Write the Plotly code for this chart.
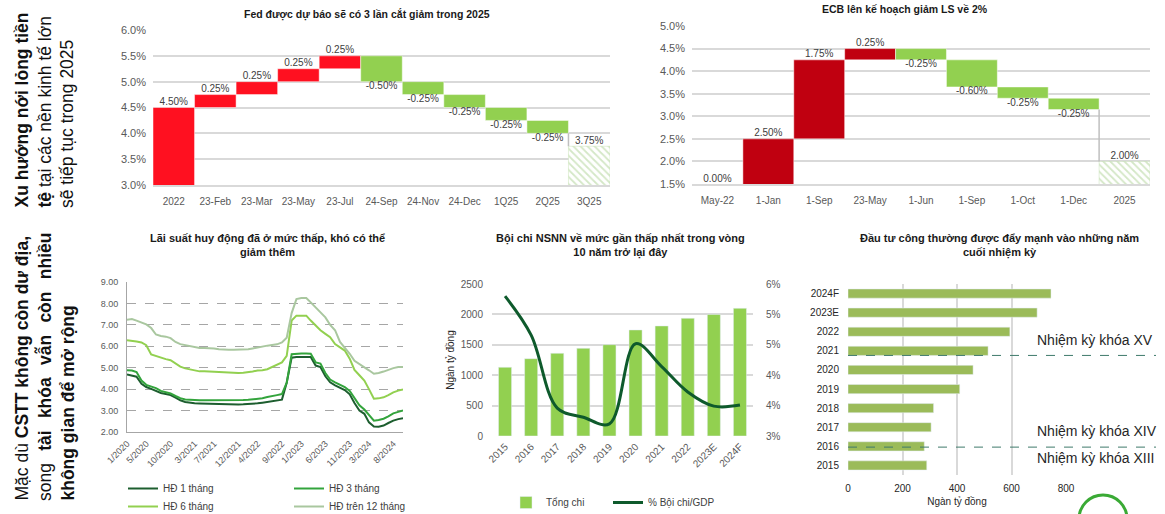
import plotly.graph_objects as go
import pandas as pd

W, H = 1165, 514
def fx(p): return p / W
def fy(p): return 1 - p / H

FONT = "Liberation Sans, Arial, sans-serif"
TXT = "#404040"
AX = "#595959"

# ---------------- data ----------------
fed_categories = ["2022", "23-Feb", "23-Mar", "23-May", "23-Jul", "24-Sep",
                  "24-Nov", "24-Dec", "1Q25", "2Q25", "3Q25"]
fed_changes = [4.50, 0.25, 0.25, 0.25, 0.25, -0.50, -0.25, -0.25, -0.25, -0.25, 3.75]
fed_totals = [True, False, False, False, False, False, False, False, False, False, True]

ecb_categories = ["May-22", "1-Jan", "1-Sep", "23-May", "1-Jun", "1-Sep",
                  "1-Oct", "1-Dec", "2025"]
ecb_changes = [0.00, 2.50, 1.75, 0.25, -0.25, -0.60, -0.25, -0.25, 2.00]
ecb_totals = [True, False, False, False, False, False, False, False, True]

rate_months = pd.date_range("2020-01-01", periods=58, freq="MS")
rate_1m = [4.68, 4.64, 4.58, 4.25, 4.10, 4.01, 3.92, 3.82, 3.77, 3.72,
           3.60, 3.48, 3.40, 3.36, 3.34, 3.33, 3.32, 3.31, 3.30, 3.29,
           3.28, 3.28, 3.28, 3.28, 3.29, 3.30, 3.32, 3.34, 3.37, 3.40,
           3.43, 3.47, 3.51, 4.30, 5.47, 5.50, 5.50, 5.50, 5.50, 5.10,
           5.03, 4.60, 4.32, 4.18, 4.08, 3.96, 3.76, 3.35, 3.00, 2.85,
           2.45, 2.26, 2.25, 2.30, 2.42, 2.53, 2.60, 2.64]
rate_3m = [4.88, 4.87, 4.80, 4.40, 4.20, 4.13, 4.05, 3.92, 3.85, 3.80,
           3.68, 3.58, 3.52, 3.50, 3.48, 3.48, 3.48, 3.48, 3.48, 3.47,
           3.46, 3.47, 3.48, 3.48, 3.49, 3.50, 3.52, 3.54, 3.58, 3.63,
           3.69, 3.72, 3.77, 4.30, 5.63, 5.66, 5.66, 5.66, 5.65, 5.25,
           5.19, 4.75, 4.45, 4.32, 4.20, 4.10, 3.92, 3.60, 3.25, 3.05,
           2.80, 2.53, 2.56, 2.62, 2.73, 2.87, 2.94, 3.00]
rate_6m = [6.28, 6.26, 6.22, 6.18, 6.05, 5.62, 5.55, 5.45, 5.40, 5.35,
           5.19, 5.05, 4.97, 4.92, 4.87, 4.83, 4.83, 4.83, 4.82, 4.80,
           4.79, 4.77, 4.76, 4.75, 4.76, 4.78, 4.82, 4.87, 4.88, 4.93,
           5.03, 5.12, 5.25, 5.55, 7.20, 7.43, 7.43, 7.43, 7.20, 6.98,
           6.75, 6.58, 6.42, 6.10, 5.95, 5.80, 5.42, 4.90, 4.65, 4.40,
           4.00, 3.55, 3.57, 3.62, 3.72, 3.85, 3.93, 3.98]
rate_12m = [7.24, 7.27, 7.20, 7.09, 7.02, 6.85, 6.55, 6.48, 6.45, 6.38,
            6.20, 6.10, 6.06, 6.02, 5.95, 5.92, 5.92, 5.92, 5.90, 5.86,
            5.84, 5.84, 5.84, 5.84, 5.85, 5.86, 5.90, 5.95, 5.97, 6.03,
            6.06, 6.09, 6.18, 6.40, 7.55, 8.20, 8.25, 8.25, 8.05, 7.80,
            7.60, 7.35, 7.00, 6.75, 6.20, 5.95, 5.65, 5.32, 5.18, 5.00,
            4.88, 4.72, 4.75, 4.82, 4.91, 4.98, 5.03, 5.03]
rate_names = ["HĐ 1 tháng", "HĐ 3 tháng", "HĐ 6 tháng", "HĐ trên 12 tháng"]
rate_tickvals = ["2020-01-01", "2020-05-01", "2020-10-01", "2021-03-01", "2021-07-01",
                 "2021-12-01", "2022-04-01", "2022-09-01", "2023-01-01", "2023-06-01",
                 "2023-11-01", "2024-03-01", "2024-08-01"]
rate_ticktext = ["1/2020", "5/2020", "10/2020", "3/2021", "7/2021", "12/2021", "4/2022",
                 "9/2022", "1/2023", "6/2023", "11/2023", "3/2024", "8/2024"]

budget_years = ["2015", "2016", "2017", "2018", "2019", "2020", "2021", "2022", "2023E", "2024F"]
budget_spending = [1130, 1272, 1360, 1442, 1502, 1744, 1810, 1936, 2000, 2100]
budget_deficit_pct = [5.76, 4.99, 3.55, 3.37, 3.24, 4.82, 4.37, 3.87, 3.59, 3.61]

invest_years = ["2015", "2016", "2017", "2018", "2019", "2020", "2021", "2022", "2023E", "2024F"]
invest_values = [289, 280, 305, 314, 410, 459, 514, 594, 694, 745]
term_breaks = ["2016", "2021"]
term_labels = ["Nhiệm kỳ khóa XV", "Nhiệm kỳ khóa XIV", "Nhiệm kỳ khóa XIII"]

# ---------------- helpers ----------------
def waterfall(changes, totals):
    starts, ends = [], []
    level = 0.0
    for c, t in zip(changes, totals):
        s, e = (0.0, c) if t else (level, level + c)
        level = e
        starts.append(s)
        ends.append(e)
    return starts, ends

fig = go.Figure()

def add_waterfall(cats, changes, totals, up_color, down_color, xa, ya, ymin):
    n = len(cats)
    starts, ends = waterfall(changes, totals)
    idx = list(range(n))
    colors = [up_color if (t or c >= 0) else down_color for c, t in zip(changes, totals)]
    m = n - 1
    fig.add_trace(go.Bar(
        x=idx[:m], y=[e - s for s, e in zip(starts[:m], ends[:m])], base=starts[:m],
        width=1, marker=dict(color=colors[:m], line=dict(color="rgba(255,255,255,0.6)", width=0.8)),
        xaxis=xa, yaxis=ya, showlegend=False, hoverinfo="skip"))
    fig.add_trace(go.Bar(
        x=[idx[m]], y=[ends[m] - starts[m]], base=[starts[m]], width=1,
        marker=dict(color="#A9D08E", line=dict(color="#C6E0B4", width=0.5),
                    pattern=dict(shape="\\", fgcolor="#A9D08E", bgcolor="white",
                                 size=5, solidity=0.35)),
        xaxis=xa, yaxis=ya, showlegend=False, hoverinfo="skip"))
    fig.add_trace(go.Scatter(
        x=[m - 0.5, m - 0.5], y=[ends[m - 1], ends[m]], mode="lines",
        line=dict(color="#BFBFBF", width=1.5), xaxis=xa, yaxis=ya,
        showlegend=False, hoverinfo="skip"))
    ly, lp = [], []
    for c, t, e in zip(changes, totals, ends):
        ly.append(max(e, ymin))
        lp.append("bottom center" if (not t and c < 0) else "top center")
    fig.add_trace(go.Scatter(
        x=idx, y=ly, mode="text", text=[f"{c:.2f}%" for c in changes],
        textposition=lp, textfont=dict(size=10, color=TXT, family=FONT),
        xaxis=xa, yaxis=ya, showlegend=False, hoverinfo="skip", cliponaxis=False))

add_waterfall(fed_categories, fed_changes, fed_totals, "#FF1020", "#92D050", "x", "y", 3.0)
add_waterfall(ecb_categories, ecb_changes, ecb_totals, "#C00010", "#92D050", "x2", "y2", 1.5)

# rates
rate_colors = ["#1D5E2F", "#33A43C", "#92D050", "#A9C79F"]
rate_legends = ["legend", "legend", "legend3", "legend3"]
for name, vals, col, lg in zip(rate_names, [rate_1m, rate_3m, rate_6m, rate_12m],
                               rate_colors, rate_legends):
    fig.add_trace(go.Scatter(x=rate_months, y=vals, mode="lines", name=name,
                             line=dict(color=col, width=2), xaxis="x3", yaxis="y3",
                             legend=lg, hoverinfo="skip"))

# budget
fig.add_trace(go.Bar(x=budget_years, y=budget_spending, name="Tổng chi",
                     marker=dict(color="#92D050"), width=0.5,
                     xaxis="x4", yaxis="y4", legend="legend2", hoverinfo="skip"))
fig.add_trace(go.Scatter(x=budget_years, y=budget_deficit_pct, name="% Bội chi/GDP",
                         mode="lines", line=dict(color="#0E5A2C", width=3, shape="spline",
                                                 smoothing=1.0),
                         xaxis="x4", yaxis="y5", legend="legend4", hoverinfo="skip"))

# investment
fig.add_trace(go.Bar(x=invest_values, y=invest_years, orientation="h", width=0.48,
                     marker=dict(color="#9BBB59"), xaxis="x5", yaxis="y6",
                     showlegend=False, hoverinfo="skip"))

tf = lambda s, c=AX: dict(size=s, color=c, family=FONT)

leg_common = dict(orientation="h", xanchor="left", yanchor="top", itemwidth=30,
                  font=tf(10, TXT), bgcolor="rgba(0,0,0,0)", tracegroupgap=0)

layout = dict(
    width=W, height=H, autosize=False,
    margin=dict(l=0, r=0, t=0, b=0, autoexpand=False),
    paper_bgcolor="white", plot_bgcolor="white",
    font=dict(family=FONT, color=TXT),
    barmode="overlay",
    xaxis=dict(domain=[fx(153), fx(610)], anchor="y", range=[-0.5, len(fed_categories) - 0.5],
               tickvals=list(range(len(fed_categories))), ticktext=fed_categories,
               showgrid=False, zeroline=False, showline=True, linecolor="#D9D9D9", linewidth=1.5,
               ticks="", tickfont=tf(10), ticklabelstandoff=6),
    yaxis=dict(domain=[fy(185), fy(30)], anchor="x", range=[3, 6], dtick=0.5, tick0=3,
               tickformat=".1f", ticksuffix="%", gridcolor="#D9D9D9", gridwidth=1.5,
               zeroline=False, showline=False, ticks="", tickfont=tf(11), ticklabelstandoff=6),
    xaxis2=dict(domain=[fx(692), fx(1150)], anchor="y2", range=[-0.5, len(ecb_categories) - 0.5],
                tickvals=list(range(len(ecb_categories))), ticktext=ecb_categories,
                showgrid=False, zeroline=False, showline=True, linecolor="#D9D9D9", linewidth=1.5,
                ticks="", tickfont=tf(10), ticklabelstandoff=6),
    yaxis2=dict(domain=[fy(184), fy(26)], anchor="x2", range=[1.5, 5], dtick=0.5, tick0=1.5,
                tickformat=".1f", ticksuffix="%", gridcolor="#D9D9D9", gridwidth=1.5,
                zeroline=False, showline=False, ticks="", tickfont=tf(11), ticklabelstandoff=6),
    xaxis3=dict(domain=[fx(127), fx(403)], anchor="y3", type="date",
                range=["2020-01-01", "2024-10-01"], tickvals=rate_tickvals, ticktext=rate_ticktext,
                tickangle=-45, showgrid=False, zeroline=False, showline=True, linecolor="#A6A6A6",
                ticks="", tickfont=tf(9), ticklabelstandoff=2),
    yaxis3=dict(domain=[fy(432), fy(282)], anchor="x3", range=[2, 9], dtick=1, tick0=2,
                tickformat=".2f", gridcolor="#A6A6A6", griddash="dash", gridwidth=1,
                zeroline=False, showline=True, linecolor="#A6A6A6", ticks="",
                tickfont=tf(9), ticklabelstandoff=6),
    xaxis4=dict(domain=[fx(492), fx(753)], anchor="y4", type="category", tickangle=-45,
                showgrid=False, zeroline=False, showline=False, ticks="",
                tickfont=tf(10), ticklabelstandoff=2),
    yaxis4=dict(domain=[fy(436), fy(284)], anchor="x4", range=[0, 2500], dtick=500,
                gridcolor="#D9D9D9", gridwidth=1.5, zeroline=False, showline=False, ticks="",
                tickfont=tf(10), ticklabelstandoff=8,
                title=dict(text="Ngàn tỷ đồng", font=tf(10, "#262626"), standoff=4)),
    yaxis5=dict(overlaying="y4", anchor="x4", side="right", range=[3, 6], dtick=0.6, tick0=3,
                tickformat=".0f", ticksuffix="%", showgrid=False, zeroline=False,
                showline=False, ticks="", tickfont=tf(10), ticklabelstandoff=12),
    xaxis5=dict(domain=[fx(848), fx(1066)], anchor="y6", range=[0, 800], dtick=200, tick0=0,
                gridcolor="#D9D9D9", gridwidth=1.5, zeroline=False, showline=False, ticks="",
                tickfont=tf(10, "#262626"), ticklabelstandoff=6,
                title=dict(text="Ngàn tỷ đồng", font=tf(10, "#262626"), standoff=4)),
    yaxis6=dict(domain=[fy(475), fy(284)], anchor="x5", type="category",
                categoryorder="array", categoryarray=invest_years,
                showgrid=False, zeroline=False, showline=False, ticks="",
                tickfont=tf(10, "#262626"), ticklabelstandoff=8),
    legend=dict(x=fx(123), y=fy(474), entrywidth=121, entrywidthmode="pixels", **leg_common),
    legend3=dict(x=fx(123), y=fy(492), entrywidth=121, entrywidthmode="pixels", **leg_common),
    legend2=dict(x=fx(506), y=fy(488), **leg_common),
    legend4=dict(x=fx(608), y=fy(488), **leg_common),
)
fig.update_layout(**layout)
fig.update_xaxes(automargin=False)
fig.update_yaxes(automargin=False)

ann = []
def title(text, x, y, size=11):
    ann.append(dict(text=f"<b>{text}</b>", x=fx(x), y=fy(y), xref="paper", yref="paper",
                    xanchor="center", yanchor="middle", showarrow=False,
                    font=dict(size=size, color="#1A1A1A", family=FONT)))

title("Fed được dự báo sẽ có 3 lần cắt giảm trong 2025", 367, 14, 10.5)
title("ECB lên kế hoạch giảm LS về 2%", 905, 9, 10.5)
title("Lãi suất huy động đã ở mức thấp, khó có thể<br>giảm thêm", 267, 245)
title("Bội chi NSNN về mức gần thấp nhất trong vòng<br>10 năm trở lại đây", 620, 245)
title("Đầu tư công thường được đẩy mạnh vào những năm<br>cuối nhiệm kỳ", 999, 245)

# side texts (rotated)
sp = "\u2002\u2009"
side = [
    ("<b>Xu hướng nới lỏng tiền</b>", 21, 210),
    ("<b>tệ</b> tại các nền kinh tế lớn", 44, 210),
    ("sẽ tiếp tục trong 2025", 67, 210),
    ("Mặc dù <b>CSTT không còn dư địa,</b>", 21, 503),
    ("song" + sp + "<b>tài" + sp + "khóa" + sp + "vẫn" + sp + "còn" + sp + "nhiều</b>", 44, 503),
    ("<b>không gian để mở rộng</b>", 67, 503),
]
for t, x, y in side:
    ann.append(dict(text=t, x=fx(x), y=fy(y), xref="paper", yref="paper", xanchor="center",
                    yanchor="bottom", textangle=-90, showarrow=False,
                    font=dict(size=17.5, color="#111111", family=FONT)))

for t, y in zip(term_labels, [340, 431, 458]):
    ann.append(dict(text=t, x=fx(1035), y=fy(y), xref="paper", yref="paper", xanchor="left",
                    yanchor="middle", showarrow=False, font=dict(size=14, color="#262626", family=FONT)))

fig.update_layout(annotations=ann)

shapes = []
offsets = {"2016": 0.04, "2021": 0.24}
for yr in term_breaks:
    yv = invest_years.index(yr) - offsets[yr]
    shapes.append(dict(type="line", xref="paper", yref="y6", x0=fx(848), x1=fx(1156),
                       y0=yv, y1=yv, line=dict(color="#3E7A6A", width=1, dash="dash")))
shapes.append(dict(type="circle", xref="paper", yref="paper", x0=fx(1079), x1=fx(1127),
                   y0=fy(543), y1=fy(495), line=dict(color="#3AAA35", width=3)))
fig.update_layout(shapes=shapes)

fig.write_html("out.html", config={"displayModeBar": False},
               post_script="document.body.style.margin='0';document.body.style.overflow='hidden';")
